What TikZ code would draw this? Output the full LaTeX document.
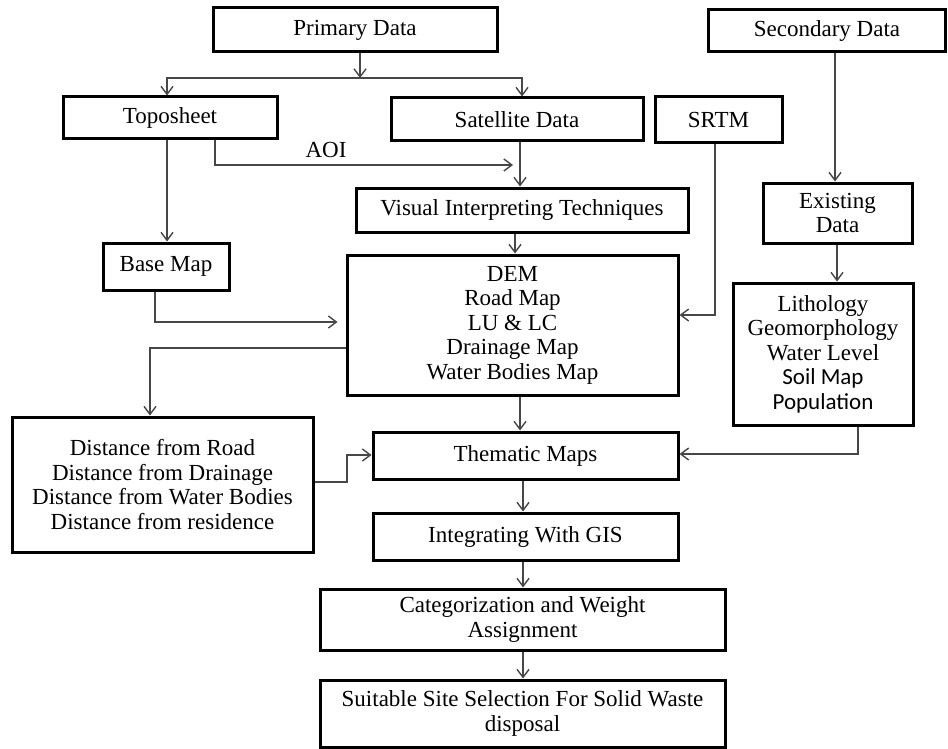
\documentclass[tikz,border=0pt]{standalone}
\usepackage{fontspec}
\setmainfont{Liberation Serif}
\newfontfamily\calib{Carlito}
\usetikzlibrary{arrows.meta}
\begin{document}
\begin{tikzpicture}[x=1pt,y=-1pt,
  box/.style={draw=black, line width=3pt, inner sep=0pt, align=center, fill=white,
    font=\fontsize{23}{24.5}\selectfont},
  arr/.style={draw=black!72, line width=1.4pt,
    -{Straight Barb[length=8pt,width=12pt,line width=1.4pt]}},
  ln/.style={draw=black!72, line width=1.4pt},
  lbl/.style={font=\fontsize{23}{24.5}\selectfont, inner sep=0pt}]
\useasboundingbox (0,0) rectangle (948,749);

% boxes
\node[box, minimum width=284pt, minimum height=44pt] (prim) at (355,30) {Primary Data};
\node[box, minimum width=237pt, minimum height=42pt] (sec) at (827,31) {Secondary Data};
\node[box, minimum width=214pt, minimum height=42pt] (topo) at (170,118) {Toposheet};
\node[box, minimum width=252pt, minimum height=43pt] (sat) at (517,119.5) {Satellite Data};
\node[box, minimum width=127pt, minimum height=46pt] (srtm) at (718.5,120) {SRTM};
\node[box, minimum width=332pt, minimum height=44pt] (vit) at (522,210) {Visual Interpreting Techniques};
\node[box, minimum width=149pt, minimum height=60pt] (exist) at (837.5,213) {Existing\\Data};
\node[box, minimum width=126pt, minimum height=47pt] (base) at (166,266.5) {Base Map};
\node[box, minimum width=331pt, minimum height=140pt] (dem) at (512.5,325)
  {DEM\\Road Map\\LU \& LC\\Drainage Map\\Water Bodies Map};
\node[box, minimum width=180pt, minimum height=142pt] (lith) at (823,354)
  {Lithology\\Geomorphology\\Water Level\\{\calib Soil Map}\\{\calib Population}};
\node[box, minimum width=301pt, minimum height=135pt] (dist) at (162.5,484.5)
  {Distance from Road\\Distance from Drainage\\Distance from Water Bodies\\Distance from residence};
\node[box, minimum width=305pt, minimum height=47pt] (them) at (525.5,455.5) {Thematic Maps};
\node[box, minimum width=305pt, minimum height=47pt] (gis) at (525.5,536.5) {Integrating With GIS};
\node[box, minimum width=405pt, minimum height=61pt] (cat) at (522.5,619.5)
  {Categorization and Weight\\Assignment};
\node[box, minimum width=405pt, minimum height=67pt] (suit) at (522.5,713.5)
  {Suitable Site Selection For Solid Waste\\disposal};

% connectors
\coordinate (split) at (360,78);
\draw[arr] (prim.south -| split) -- (split);
\draw[arr] (split) -| (167,0 |- topo.north);
\draw[arr] (split) -| (522,0 |- sat.north);

\coordinate (aoiend) at (513,165);
\draw[arr] (215,0 |- topo.south) |- (aoiend);
\node[lbl] (aoi) at (326,150) {AOI};

\draw[arr] (520,0 |- sat.south) -- (520,0 |- vit.north);
\draw[arr] (515,0 |- vit.south) -- (515,0 |- dem.north);
\draw[arr] (167,0 |- topo.south) -- (167,0 |- base.north);
\draw[arr, shorten >=8pt] (155,0 |- base.south) |- (dem.west |- 0,322);
\draw[arr] (dem.west |- 0,348) -| (150,0 |- dist.north);
\draw[arr] (715,0 |- srtm.south) |- (dem.east |- 0,315);
\draw[arr] (520,0 |- dem.south) -- (520,0 |- them.north);
\draw[arr] (dist.east |- 0,482) -| (347,455) -- (them.west |- 0,455);
\draw[arr] (835,0 |- sec.south) -- (835,0 |- exist.north);
\draw[arr] (837,0 |- exist.south) -- (837,0 |- lith.north);
\draw[arr] (858,0 |- lith.south) |- (them.east |- 0,454);
\draw[arr] (523,0 |- them.south) -- (523,0 |- gis.north);
\draw[arr] (523,0 |- gis.south) -- (523,0 |- cat.north);
\draw[arr] (523,0 |- cat.south) -- (523,0 |- suit.north);
\end{tikzpicture}
\end{document}
